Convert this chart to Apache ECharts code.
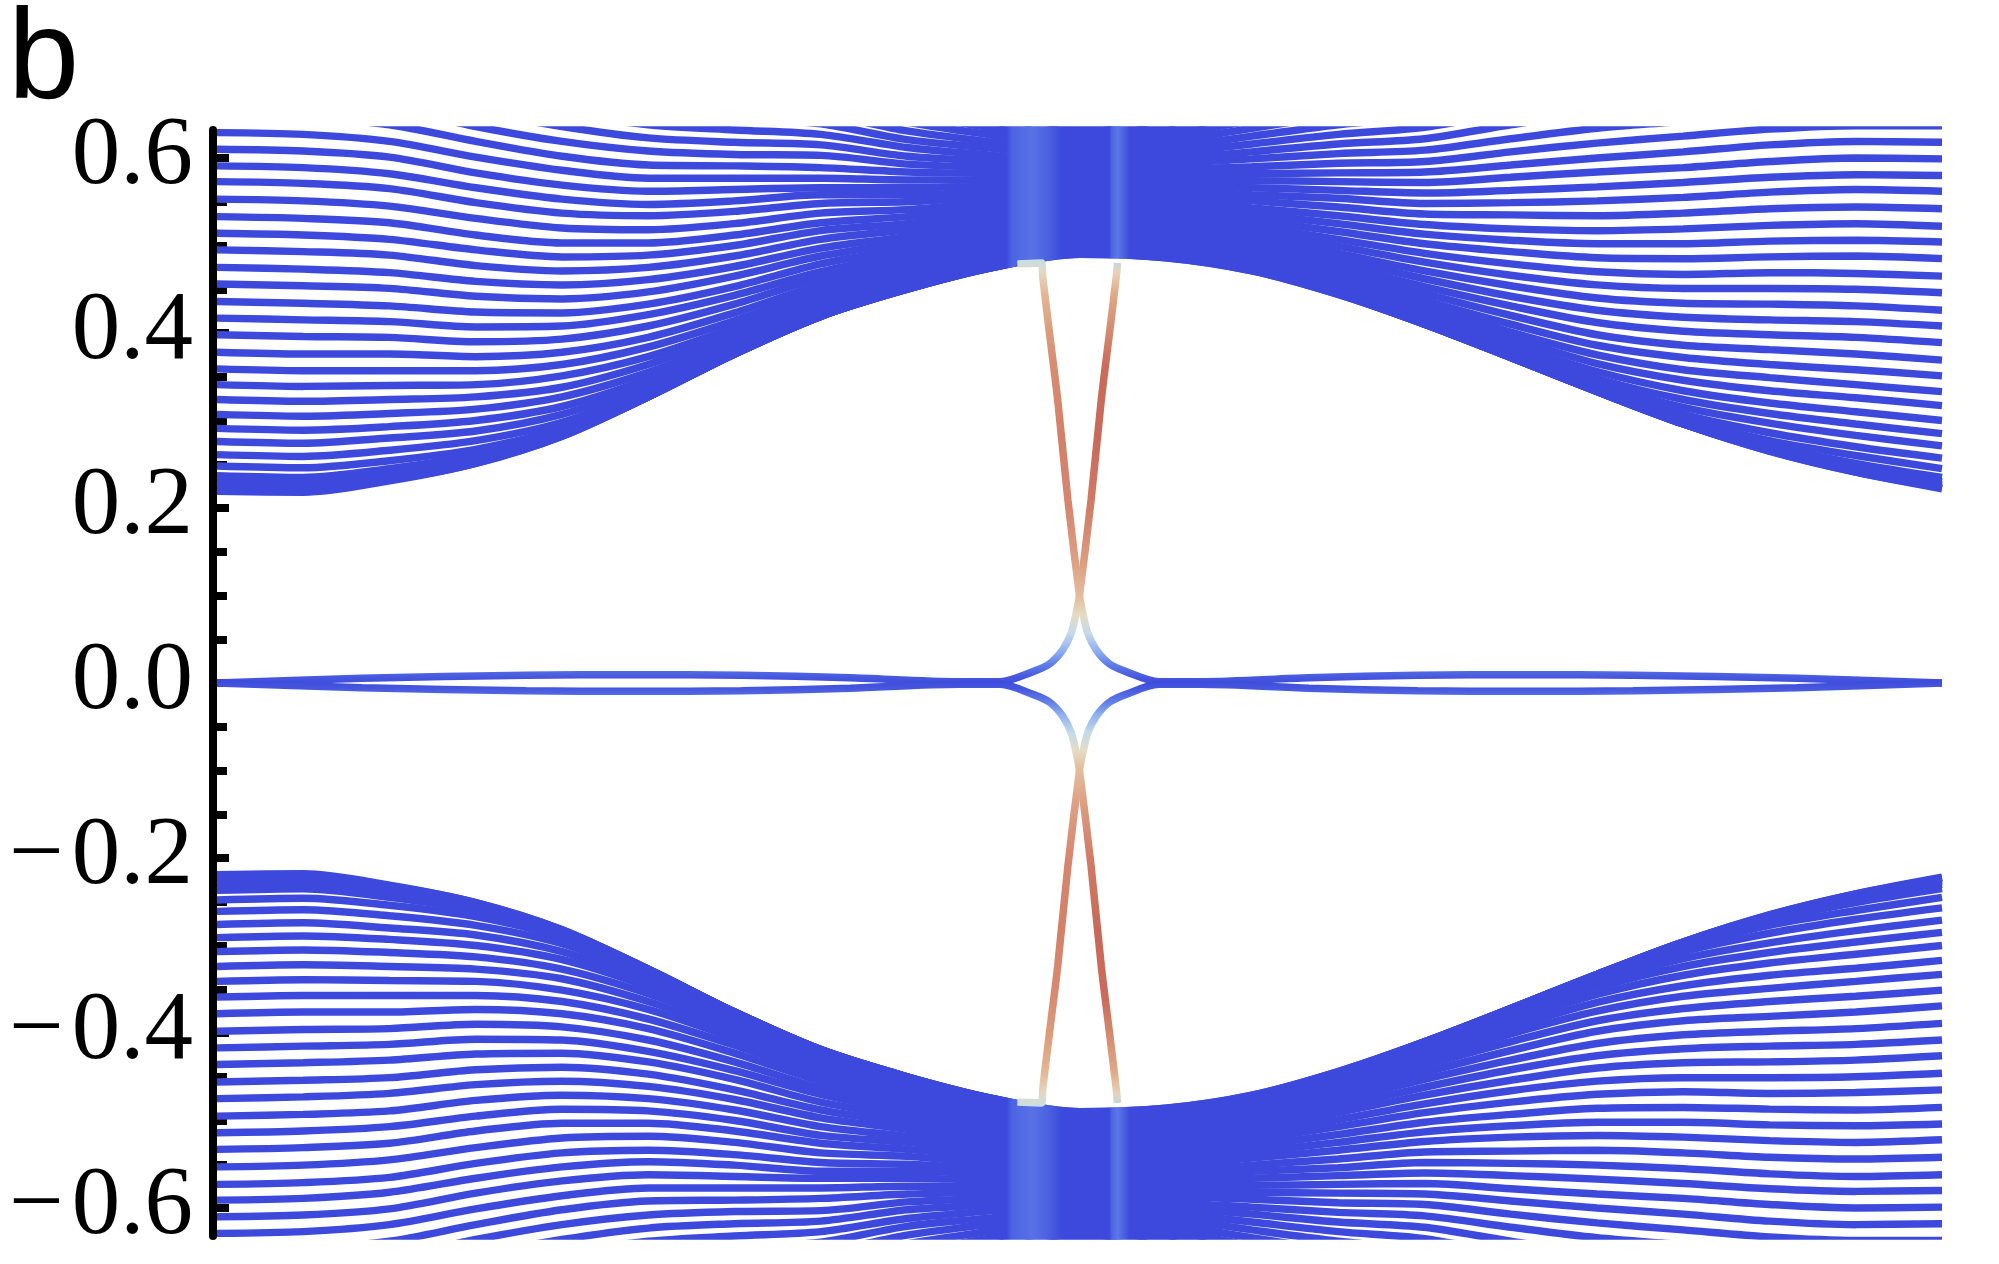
<!DOCTYPE html>
<html><head><meta charset="utf-8">
<script src="https://cdn.jsdelivr.net/npm/echarts@6/dist/echarts.min.js"></script>
<style>html,body{margin:0;padding:0;background:#fff}#c{width:1999px;height:1264px}</style>
</head><body><div id="c"></div><script>
// x samples (fraction of the plotted momentum range)
const kx = [0,0.05,0.1,0.15,0.2,0.25,0.3,0.35,0.4,0.45,0.5,0.55,0.6,0.65,0.7,0.75,0.8,0.85,0.9,0.95,1];
// upper bulk subbands (energy at each kx)
const upperBand = [
[0.219,0.218,0.231,0.251,0.282,0.327,0.376,0.419,0.450,0.475,0.490,0.486,0.471,0.444,0.410,0.372,0.333,0.296,0.265,0.241,0.222],
[0.221,0.220,0.232,0.251,0.282,0.327,0.376,0.419,0.450,0.475,0.490,0.486,0.471,0.444,0.410,0.372,0.333,0.296,0.265,0.241,0.223],
[0.226,0.225,0.236,0.253,0.283,0.327,0.376,0.419,0.450,0.475,0.491,0.487,0.472,0.445,0.410,0.372,0.333,0.296,0.266,0.244,0.226],
[0.231,0.229,0.240,0.256,0.284,0.327,0.376,0.419,0.450,0.475,0.491,0.488,0.472,0.445,0.410,0.372,0.333,0.296,0.268,0.247,0.230],
[0.237,0.235,0.245,0.260,0.286,0.328,0.376,0.419,0.450,0.476,0.492,0.489,0.472,0.445,0.411,0.372,0.333,0.298,0.271,0.251,0.235],
[0.248,0.246,0.254,0.267,0.291,0.331,0.377,0.420,0.451,0.477,0.493,0.490,0.473,0.445,0.411,0.373,0.334,0.301,0.277,0.260,0.245],
[0.261,0.259,0.266,0.277,0.298,0.335,0.379,0.421,0.452,0.478,0.495,0.492,0.474,0.447,0.412,0.374,0.337,0.307,0.286,0.270,0.257],
[0.276,0.274,0.280,0.288,0.307,0.341,0.383,0.424,0.454,0.480,0.497,0.494,0.475,0.448,0.414,0.377,0.342,0.315,0.297,0.283,0.271],
[0.291,0.289,0.293,0.300,0.316,0.347,0.387,0.427,0.457,0.483,0.499,0.497,0.477,0.450,0.417,0.381,0.348,0.324,0.308,0.296,0.285],
[0.307,0.305,0.308,0.313,0.327,0.355,0.392,0.431,0.460,0.485,0.502,0.500,0.479,0.453,0.421,0.387,0.356,0.334,0.320,0.310,0.300],
[0.324,0.322,0.324,0.327,0.338,0.364,0.399,0.436,0.464,0.488,0.504,0.503,0.482,0.456,0.425,0.394,0.365,0.346,0.334,0.326,0.317],
[0.341,0.339,0.340,0.341,0.351,0.373,0.406,0.442,0.468,0.492,0.507,0.506,0.485,0.460,0.431,0.401,0.375,0.358,0.349,0.341,0.333],
[0.359,0.357,0.357,0.357,0.364,0.384,0.414,0.448,0.473,0.495,0.510,0.509,0.489,0.465,0.437,0.410,0.386,0.372,0.364,0.358,0.351],
[0.378,0.376,0.376,0.373,0.378,0.395,0.423,0.455,0.478,0.500,0.514,0.514,0.494,0.471,0.445,0.420,0.398,0.386,0.381,0.376,0.369],
[0.398,0.396,0.395,0.390,0.393,0.408,0.433,0.463,0.484,0.504,0.517,0.517,0.499,0.477,0.453,0.431,0.412,0.402,0.398,0.395,0.389],
[0.417,0.415,0.413,0.407,0.408,0.421,0.443,0.470,0.490,0.509,0.521,0.522,0.505,0.484,0.462,0.442,0.426,0.418,0.415,0.413,0.408],
[0.436,0.434,0.431,0.424,0.423,0.433,0.453,0.479,0.496,0.514,0.525,0.527,0.510,0.491,0.471,0.454,0.440,0.434,0.433,0.431,0.426],
[0.456,0.454,0.451,0.442,0.439,0.447,0.465,0.488,0.503,0.519,0.529,0.531,0.516,0.499,0.481,0.466,0.455,0.451,0.451,0.450,0.446],
[0.475,0.473,0.469,0.459,0.455,0.461,0.476,0.497,0.510,0.525,0.533,0.536,0.522,0.507,0.491,0.479,0.470,0.467,0.469,0.468,0.465],
[0.495,0.493,0.489,0.477,0.471,0.475,0.488,0.507,0.518,0.531,0.538,0.542,0.529,0.516,0.502,0.493,0.486,0.485,0.487,0.488,0.485],
[0.514,0.512,0.507,0.495,0.487,0.489,0.500,0.517,0.525,0.536,0.542,0.546,0.536,0.525,0.513,0.506,0.502,0.502,0.505,0.506,0.504],
[0.533,0.531,0.526,0.512,0.503,0.503,0.512,0.526,0.533,0.542,0.547,0.552,0.543,0.534,0.524,0.519,0.517,0.519,0.523,0.525,0.522],
[0.553,0.551,0.545,0.531,0.520,0.518,0.525,0.537,0.541,0.549,0.552,0.558,0.551,0.544,0.536,0.535,0.534,0.537,0.542,0.544,0.542],
[0.573,0.571,0.565,0.549,0.537,0.534,0.539,0.548,0.550,0.555,0.557,0.563,0.558,0.554,0.548,0.549,0.551,0.555,0.561,0.564,0.562],
[0.591,0.589,0.582,0.566,0.553,0.547,0.551,0.558,0.558,0.561,0.562,0.569,0.566,0.563,0.560,0.563,0.567,0.572,0.578,0.581,0.580],
[0.610,0.608,0.601,0.583,0.569,0.562,0.564,0.566,0.566,0.568,0.567,0.574,0.574,0.573,0.572,0.578,0.584,0.589,0.596,0.600,0.599],
[0.629,0.627,0.619,0.601,0.586,0.577,0.577,0.577,0.575,0.575,0.572,0.581,0.582,0.583,0.584,0.592,0.600,0.607,0.615,0.619,0.618],
[0.648,0.646,0.638,0.619,0.602,0.592,0.591,0.589,0.584,0.582,0.577,0.586,0.590,0.594,0.596,0.607,0.617,0.625,0.633,0.637,0.637],
[0.667,0.665,0.657,0.636,0.619,0.608,0.604,0.603,0.593,0.589,0.583,0.593,0.599,0.605,0.609,0.622,0.634,0.642,0.651,0.656,0.656],
[0.686,0.684,0.675,0.654,0.636,0.623,0.618,0.615,0.602,0.596,0.588,0.599,0.607,0.616,0.622,0.638,0.652,0.660,0.670,0.675,0.675],
[0.705,0.703,0.694,0.672,0.652,0.638,0.632,0.627,0.612,0.603,0.594,0.605,0.616,0.627,0.635,0.653,0.669,0.678,0.688,0.693,0.694],
[0.724,0.722,0.713,0.690,0.669,0.654,0.646,0.639,0.621,0.611,0.599,0.611,0.625,0.638,0.648,0.668,0.686,0.696,0.707,0.712,0.713],
[0.743,0.741,0.731,0.708,0.686,0.669,0.660,0.651,0.631,0.618,0.605,0.618,0.634,0.649,0.662,0.684,0.704,0.714,0.725,0.731,0.732],
[0.762,0.760,0.750,0.725,0.703,0.685,0.674,0.663,0.641,0.626,0.611,0.625,0.643,0.660,0.675,0.700,0.721,0.732,0.744,0.750,0.750],
[0.781,0.779,0.769,0.743,0.720,0.701,0.689,0.676,0.651,0.634,0.617,0.631,0.652,0.672,0.689,0.716,0.739,0.751,0.762,0.769,0.769],
[0.800,0.798,0.787,0.761,0.737,0.717,0.703,0.688,0.661,0.642,0.623,0.638,0.662,0.684,0.702,0.732,0.757,0.769,0.781,0.787,0.788],
[0.819,0.817,0.806,0.779,0.754,0.733,0.718,0.701,0.671,0.650,0.629,0.645,0.671,0.696,0.717,0.748,0.775,0.787,0.800,0.806,0.807],
[0.838,0.836,0.825,0.797,0.771,0.748,0.733,0.713,0.681,0.658,0.635,0.652,0.681,0.708,0.731,0.764,0.793,0.806,0.818,0.825,0.827]
];
// lower bulk subbands
const lowerBand = [
[-0.219,-0.218,-0.231,-0.251,-0.282,-0.327,-0.376,-0.419,-0.450,-0.475,-0.490,-0.486,-0.471,-0.444,-0.410,-0.372,-0.333,-0.296,-0.265,-0.241,-0.222],
[-0.221,-0.220,-0.232,-0.251,-0.282,-0.327,-0.376,-0.419,-0.450,-0.475,-0.490,-0.486,-0.471,-0.444,-0.410,-0.372,-0.333,-0.296,-0.265,-0.241,-0.223],
[-0.226,-0.225,-0.236,-0.253,-0.283,-0.327,-0.376,-0.419,-0.450,-0.475,-0.491,-0.487,-0.472,-0.445,-0.410,-0.372,-0.333,-0.296,-0.266,-0.244,-0.226],
[-0.231,-0.229,-0.240,-0.256,-0.284,-0.327,-0.376,-0.419,-0.450,-0.475,-0.491,-0.488,-0.472,-0.445,-0.410,-0.372,-0.333,-0.296,-0.268,-0.247,-0.230],
[-0.237,-0.235,-0.245,-0.260,-0.286,-0.328,-0.376,-0.419,-0.450,-0.476,-0.492,-0.489,-0.472,-0.445,-0.411,-0.372,-0.333,-0.298,-0.271,-0.251,-0.235],
[-0.248,-0.246,-0.254,-0.267,-0.291,-0.331,-0.377,-0.420,-0.451,-0.477,-0.493,-0.490,-0.473,-0.445,-0.411,-0.373,-0.334,-0.301,-0.277,-0.260,-0.245],
[-0.261,-0.259,-0.266,-0.277,-0.298,-0.335,-0.379,-0.421,-0.452,-0.478,-0.495,-0.492,-0.474,-0.447,-0.412,-0.374,-0.337,-0.307,-0.286,-0.270,-0.257],
[-0.276,-0.274,-0.280,-0.288,-0.307,-0.341,-0.383,-0.424,-0.454,-0.480,-0.497,-0.494,-0.475,-0.448,-0.414,-0.377,-0.342,-0.315,-0.297,-0.283,-0.271],
[-0.291,-0.289,-0.293,-0.300,-0.316,-0.347,-0.387,-0.427,-0.457,-0.483,-0.499,-0.497,-0.477,-0.450,-0.417,-0.381,-0.348,-0.324,-0.308,-0.296,-0.285],
[-0.307,-0.305,-0.308,-0.313,-0.327,-0.355,-0.392,-0.431,-0.460,-0.485,-0.502,-0.500,-0.479,-0.453,-0.421,-0.387,-0.356,-0.334,-0.320,-0.310,-0.300],
[-0.324,-0.322,-0.324,-0.327,-0.338,-0.364,-0.399,-0.436,-0.464,-0.488,-0.504,-0.503,-0.482,-0.456,-0.425,-0.394,-0.365,-0.346,-0.334,-0.326,-0.317],
[-0.341,-0.339,-0.340,-0.341,-0.351,-0.373,-0.406,-0.442,-0.468,-0.492,-0.507,-0.506,-0.485,-0.460,-0.431,-0.401,-0.375,-0.358,-0.349,-0.341,-0.333],
[-0.359,-0.357,-0.357,-0.357,-0.364,-0.384,-0.414,-0.448,-0.473,-0.495,-0.510,-0.509,-0.489,-0.465,-0.437,-0.410,-0.386,-0.372,-0.364,-0.358,-0.351],
[-0.378,-0.376,-0.376,-0.373,-0.378,-0.395,-0.423,-0.455,-0.478,-0.500,-0.514,-0.514,-0.494,-0.471,-0.445,-0.420,-0.398,-0.386,-0.381,-0.376,-0.369],
[-0.398,-0.396,-0.395,-0.390,-0.393,-0.408,-0.433,-0.463,-0.484,-0.504,-0.517,-0.517,-0.499,-0.477,-0.453,-0.431,-0.412,-0.402,-0.398,-0.395,-0.389],
[-0.417,-0.415,-0.413,-0.407,-0.408,-0.421,-0.443,-0.470,-0.490,-0.509,-0.521,-0.522,-0.505,-0.484,-0.462,-0.442,-0.426,-0.418,-0.415,-0.413,-0.408],
[-0.436,-0.434,-0.431,-0.424,-0.423,-0.433,-0.453,-0.479,-0.496,-0.514,-0.525,-0.527,-0.510,-0.491,-0.471,-0.454,-0.440,-0.434,-0.433,-0.431,-0.426],
[-0.456,-0.454,-0.451,-0.442,-0.439,-0.447,-0.465,-0.488,-0.503,-0.519,-0.529,-0.531,-0.516,-0.499,-0.481,-0.466,-0.455,-0.451,-0.451,-0.450,-0.446],
[-0.475,-0.473,-0.469,-0.459,-0.455,-0.461,-0.476,-0.497,-0.510,-0.525,-0.533,-0.536,-0.522,-0.507,-0.491,-0.479,-0.470,-0.467,-0.469,-0.468,-0.465],
[-0.495,-0.493,-0.489,-0.477,-0.471,-0.475,-0.488,-0.507,-0.518,-0.531,-0.538,-0.542,-0.529,-0.516,-0.502,-0.493,-0.486,-0.485,-0.487,-0.488,-0.485],
[-0.514,-0.512,-0.507,-0.495,-0.487,-0.489,-0.500,-0.517,-0.525,-0.536,-0.542,-0.546,-0.536,-0.525,-0.513,-0.506,-0.502,-0.502,-0.505,-0.506,-0.504],
[-0.533,-0.531,-0.526,-0.512,-0.503,-0.503,-0.512,-0.526,-0.533,-0.542,-0.547,-0.552,-0.543,-0.534,-0.524,-0.519,-0.517,-0.519,-0.523,-0.525,-0.522],
[-0.553,-0.551,-0.545,-0.531,-0.520,-0.518,-0.525,-0.537,-0.541,-0.549,-0.552,-0.558,-0.551,-0.544,-0.536,-0.535,-0.534,-0.537,-0.542,-0.544,-0.542],
[-0.573,-0.571,-0.565,-0.549,-0.537,-0.534,-0.539,-0.548,-0.550,-0.555,-0.557,-0.563,-0.558,-0.554,-0.548,-0.549,-0.551,-0.555,-0.561,-0.564,-0.562],
[-0.591,-0.589,-0.582,-0.566,-0.553,-0.547,-0.551,-0.558,-0.558,-0.561,-0.562,-0.569,-0.566,-0.563,-0.560,-0.563,-0.567,-0.572,-0.578,-0.581,-0.580],
[-0.610,-0.608,-0.601,-0.583,-0.569,-0.562,-0.564,-0.566,-0.566,-0.568,-0.567,-0.574,-0.574,-0.573,-0.572,-0.578,-0.584,-0.589,-0.596,-0.600,-0.599],
[-0.629,-0.627,-0.619,-0.601,-0.586,-0.577,-0.577,-0.577,-0.575,-0.575,-0.572,-0.581,-0.582,-0.583,-0.584,-0.592,-0.600,-0.607,-0.615,-0.619,-0.618],
[-0.648,-0.646,-0.638,-0.619,-0.602,-0.592,-0.591,-0.589,-0.584,-0.582,-0.577,-0.586,-0.590,-0.594,-0.596,-0.607,-0.617,-0.625,-0.633,-0.637,-0.637],
[-0.667,-0.665,-0.657,-0.636,-0.619,-0.608,-0.604,-0.603,-0.593,-0.589,-0.583,-0.593,-0.599,-0.605,-0.609,-0.622,-0.634,-0.642,-0.651,-0.656,-0.656],
[-0.686,-0.684,-0.675,-0.654,-0.636,-0.623,-0.618,-0.615,-0.602,-0.596,-0.588,-0.599,-0.607,-0.616,-0.622,-0.638,-0.652,-0.660,-0.670,-0.675,-0.675],
[-0.705,-0.703,-0.694,-0.672,-0.652,-0.638,-0.632,-0.627,-0.612,-0.603,-0.594,-0.605,-0.616,-0.627,-0.635,-0.653,-0.669,-0.678,-0.688,-0.693,-0.694],
[-0.724,-0.722,-0.713,-0.690,-0.669,-0.654,-0.646,-0.639,-0.621,-0.611,-0.599,-0.611,-0.625,-0.638,-0.648,-0.668,-0.686,-0.696,-0.707,-0.712,-0.713],
[-0.743,-0.741,-0.731,-0.708,-0.686,-0.669,-0.660,-0.651,-0.631,-0.618,-0.605,-0.618,-0.634,-0.649,-0.662,-0.684,-0.704,-0.714,-0.725,-0.731,-0.732],
[-0.762,-0.760,-0.750,-0.725,-0.703,-0.685,-0.674,-0.663,-0.641,-0.626,-0.611,-0.625,-0.643,-0.660,-0.675,-0.700,-0.721,-0.732,-0.744,-0.750,-0.750],
[-0.781,-0.779,-0.769,-0.743,-0.720,-0.701,-0.689,-0.676,-0.651,-0.634,-0.617,-0.631,-0.652,-0.672,-0.689,-0.716,-0.739,-0.751,-0.762,-0.769,-0.769],
[-0.800,-0.798,-0.787,-0.761,-0.737,-0.717,-0.703,-0.688,-0.661,-0.642,-0.623,-0.638,-0.662,-0.684,-0.702,-0.732,-0.757,-0.769,-0.781,-0.787,-0.788],
[-0.819,-0.817,-0.806,-0.779,-0.754,-0.733,-0.718,-0.701,-0.671,-0.650,-0.629,-0.645,-0.671,-0.696,-0.717,-0.748,-0.775,-0.787,-0.800,-0.806,-0.807],
[-0.838,-0.836,-0.825,-0.797,-0.771,-0.748,-0.733,-0.713,-0.681,-0.658,-0.635,-0.652,-0.681,-0.708,-0.731,-0.764,-0.793,-0.806,-0.818,-0.825,-0.827]
];
// in-gap states
const edgeAx = [0,0.084,0.179,0.242,0.304,0.367,0.43,0.454,0.473,0.4827,0.4903,0.4952,0.4981,0.5,0.5067,0.5126,0.5174,0.5213,0.522];
const edgeAy = [0,0.0053,0.0088,0.0095,0.0088,0.006,0.0015,0.0015,0.013,0.022,0.038,0.057,0.080,0.1,0.209,0.323,0.40,0.464,0.48];
const edgeBx = [1,0.916,0.821,0.758,0.696,0.633,0.57,0.546,0.527,0.5173,0.5097,0.5048,0.5019,0.5,0.4933,0.4874,0.4826,0.4787,0.478,0.464];
const edgeBy = [0,0.0053,0.0088,0.0095,0.0088,0.006,0.0015,0.0015,0.013,0.022,0.038,0.057,0.080,0.1,0.209,0.323,0.40,0.464,0.48,0.479];
const edgeCx = [0,0.084,0.179,0.242,0.304,0.367,0.43,0.454,0.473,0.4827,0.4903,0.4952,0.4981,0.5,0.5067,0.5126,0.5174,0.5213,0.522];
const edgeCy = [0,-0.0053,-0.0088,-0.0095,-0.0088,-0.006,-0.0015,-0.0015,-0.013,-0.022,-0.038,-0.057,-0.080,-0.1,-0.209,-0.323,-0.40,-0.464,-0.48];
const edgeDx = [1,0.916,0.821,0.758,0.696,0.633,0.57,0.546,0.527,0.5173,0.5097,0.5048,0.5019,0.5,0.4933,0.4874,0.4826,0.4787,0.478,0.464];
const edgeDy = [0,-0.0053,-0.0088,-0.0095,-0.0088,-0.006,-0.0015,-0.0015,-0.013,-0.022,-0.038,-0.057,-0.080,-0.1,-0.209,-0.323,-0.40,-0.464,-0.48,-0.479];
// axis ticks
const yMajorTicks = [-0.6,-0.4,-0.2,0,0.2,0.4,0.6];
const yTickLabels = ['\u2212\u200A0.6','\u2212\u200A0.4','\u2212\u200A0.2','0.0','0.2','0.4','0.6'];
const yMinorTicks = [-0.55,-0.5,-0.45,-0.35,-0.3,-0.25,-0.15,-0.1,-0.05,0.05,0.1,0.15,0.25,0.3,0.35,0.45,0.5,0.55];
const panelLabel = 'b';

const BLUE = '#3c49dc';
function pairs(xs, ys){ return xs.map((x,i)=>[x, ys[i]]); }
function bandGrad(){
  return {type:'linear', x:0, y:0, x2:1, y2:0, global:false, colorStops:[
    {offset:0, color:BLUE},{offset:0.458, color:BLUE},{offset:0.461, color:'#4d64e2'},
    {offset:0.473, color:'#5872e6'},{offset:0.483, color:'#4a5ee0'},{offset:0.49, color:BLUE},
    {offset:0.517, color:BLUE},{offset:0.519, color:'#5068e4'},{offset:0.522, color:'#5b78e8'},
    {offset:0.526, color:'#4a5ee0'},{offset:0.529, color:BLUE},{offset:1, color:BLUE}]};
}
const stopsDark = [[0,BLUE],[0.021,'#4556de'],[0.052,'#5f7de8'],[0.083,'#8db0f0'],[0.125,'#c4dbe8'],[0.167,'#e4dcc6'],[0.208,'#e3be9e'],[0.292,'#dc9e80'],[0.417,'#d07c66'],[0.583,'#c9695a'],[0.75,'#ca6c5c'],[0.833,'#d48a70'],[0.917,'#dfa886'],[0.969,'#e6d2b8'],[1,'#b8d8ea']];
const stopsLight = [[0,BLUE],[0.021,'#4556de'],[0.052,'#5f7de8'],[0.083,'#8db0f0'],[0.125,'#c4dbe8'],[0.167,'#e4dcc6'],[0.208,'#e3be9e'],[0.292,'#dea084'],[0.417,'#d68670'],[0.583,'#d48068'],[0.75,'#d88c72'],[0.833,'#dc9c7c'],[0.917,'#e2b694'],[0.969,'#e4d8c2'],[1,'#c6e0e6']];
function edgeGrad(stops, up){
  return {type:'linear', x:0, y: up?1:0, x2:0, y2: up?0:1, global:false,
    colorStops: stops.map(s=>({offset:s[0], color:s[1]}))};
}
const series = [];
function addBand(rows){
  rows.forEach(r=>series.push({type:'line', data:pairs(kx,r), smooth:0.3, symbol:'none', showSymbol:false,
    silent:true, clip:true, lineStyle:{color:bandGrad(), width:7.5}, z:2}));
}
addBand(upperBand); addBand(lowerBand);
function addEdge(xs, ys, stops, up){
  series.push({type:'line', data:pairs(xs,ys), smooth:0.3, symbol:'none', showSymbol:false, silent:true, clip:true,
    lineStyle:{color:edgeGrad(stops, up), width:7.5}, z:3});
}
addEdge(edgeAx, edgeAy, stopsDark, true);
addEdge(edgeBx, edgeBy, stopsLight, true);
addEdge(edgeCx, edgeCy, stopsDark, false);
addEdge(edgeDx, edgeDy, stopsLight, false);

function labelFor(v){
  for (let i=0;i<yMajorTicks.length;i++) if (Math.abs(v-yMajorTicks[i])<1e-6) return yTickLabels[i];
  return '';
}
const chart = echarts.init(document.getElementById('c'), null, {renderer:'canvas'});
chart.setOption({
  animation:false,
  backgroundColor:'#ffffff',
  grid:{left:213, right:57, top:130, bottom:28, containLabel:false},
  xAxis:{type:'value', min:-0.0023, max:1, show:false},
  yAxis:[{
    type:'value', min:-0.632, max:0.632, position:'left',
    axisLine:{show:true, onZero:false, lineStyle:{color:'#000', width:8}},
    axisTick:{show:true, inside:true, length:16, customValues:yMajorTicks, lineStyle:{color:'#000', width:8}},
    axisLabel:{show:true, customValues:yMajorTicks, formatter:labelFor, fontFamily:'Liberation Serif', fontSize:97, color:'#000', margin:20},
    splitLine:{show:false}
  },{
    type:'value', min:-0.632, max:0.632, position:'left', offset:0,
    axisLine:{show:false},
    axisTick:{show:true, inside:true, length:10, customValues:yMinorTicks, lineStyle:{color:'#000', width:8}},
    axisLabel:{show:false}, splitLine:{show:false}
  }],
  graphic:[{type:'text', style:{x:8, y:63, text:panelLabel, font:'128px "Liberation Sans"', fill:'#000', align:'left', verticalAlign:'middle'}}],
  series: series
});
</script></body></html>
